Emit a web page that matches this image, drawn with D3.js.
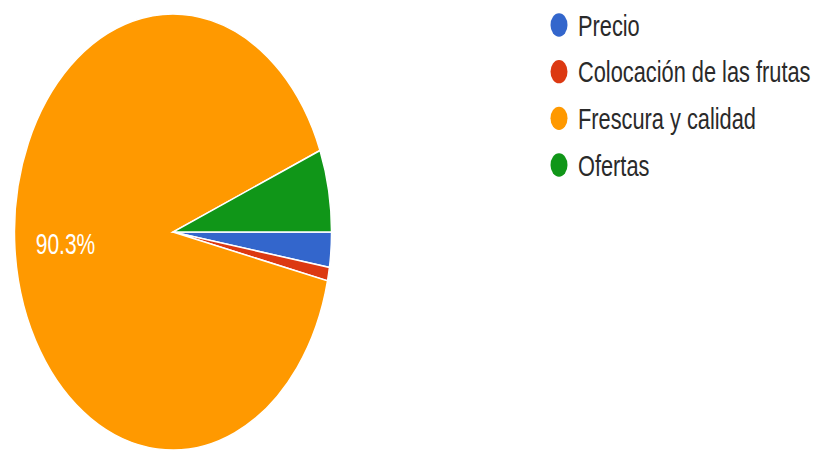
<!DOCTYPE html>
<html>
<head>
<meta charset="utf-8">
<script src="https://cdn.jsdelivr.net/npm/d3@7"></script>
<style>
  html, body { margin: 0; padding: 0; background: #fff; }
  #chart { width: 814px; height: 451px; overflow: hidden; }
  text { font-family: "Liberation Sans", Arial, sans-serif; }
</style>
</head>
<body>
<div id="chart"></div>
<script>
// datos (porcentajes)
const categories = ["Precio", "Colocación de las frutas", "Frescura y calidad", "Ofertas"];
const values = [2.6, 1.0, 90.3, 6.1];
const colors = ["#3366cc", "#dc3912", "#ff9900", "#109618"];

const width = 814, height = 451;
const stretch = 1.375; // la imagen está estirada en vertical
const ry = 218, rx = ry / stretch;
const cx = 173, cy = 232;

const svg = d3.select("#chart")
  .append("svg")
  .attr("width", width)
  .attr("height", height);

const data = categories.map((c, i) => ({ name: c, value: values[i], color: colors[i] }));

const pie = d3.pie()
  .sort(null)
  .value(d => d.value)
  .startAngle(Math.PI / 2)
  .endAngle(Math.PI / 2 + 2 * Math.PI);

const arc = d3.arc().innerRadius(0).outerRadius(ry);
const labelArc = d3.arc().innerRadius(ry * 0.68).outerRadius(ry * 0.68);

const pieG = svg.append("g")
  .attr("transform", `translate(${cx},${cy}) scale(${rx / ry},1)`);

const arcs = pie(data);

pieG.selectAll("path")
  .data(arcs)
  .enter().append("path")
  .attr("d", arc)
  .attr("fill", d => d.data.color)
  .attr("stroke", "#fff")
  .attr("stroke-width", 1.5)
  .attr("vector-effect", "non-scaling-stroke");

// etiqueta solo en las porciones grandes
svg.append("g")
  .selectAll("text")
  .data(arcs.filter(d => d.data.value > 10))
  .enter().append("text")
  .attr("transform", d => {
    const [x, y] = labelArc.centroid(d);
    return `translate(${cx + x * rx / ry},${cy + y}) scale(1,${stretch})`;
  })
  .attr("text-anchor", "middle")
  .attr("dy", "0.35em")
  .style("font-size", "21px")
  .style("fill", "#fff")
  .text(d => d3.format(".1f")(d.data.value) + "%");

// leyenda
const ly = d3.scalePoint().domain(categories).range([25, 165]);

const legend = svg.append("g")
  .selectAll("g")
  .data(data)
  .enter().append("g")
  .attr("transform", d => `translate(559,${ly(d.name)}) scale(1,${stretch})`);

legend.append("circle")
  .attr("r", 8.5)
  .attr("fill", d => d.color);

legend.append("text")
  .attr("x", 19)
  .attr("dy", "0.35em")
  .style("font-size", "21.8px")
  .style("fill", "#2a2a2a")
  .text(d => d.name);
</script>
</body>
</html>
